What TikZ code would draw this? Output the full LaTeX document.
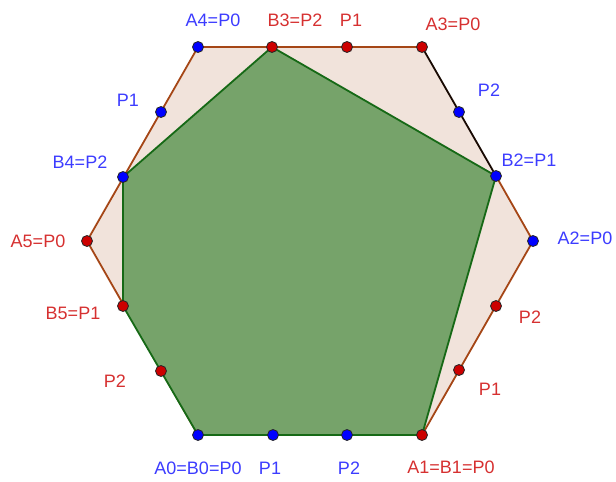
\documentclass[tikz,border=0pt]{standalone}
\usepackage{fontspec}
\setmainfont{Liberation Sans}
\usetikzlibrary{positioning,backgrounds}
\definecolor{hexFill}{RGB}{241,227,219}
\definecolor{hexEdge}{RGB}{165,70,22}
\definecolor{pentFill}{RGB}{118,163,106}
\definecolor{pentEdge}{RGB}{22,105,22}
\definecolor{ptRed}{RGB}{204,0,0}
\definecolor{ptBlue}{RGB}{0,0,255}
\definecolor{txtRed}{RGB}{214,48,48}
\definecolor{txtBlue}{RGB}{60,60,255}

\begin{document}
\begin{tikzpicture}[x=1pt,y=-1pt,
      pt/.style={circle, draw=black!85, line width=0.8pt, inner sep=0pt, minimum size=11pt},
      rpt/.style={pt, fill=ptRed},
      bpt/.style={pt, fill=ptBlue},
      lbl/.style={font=\fontsize{18}{20}\selectfont, inner sep=0pt},
      rl/.style={lbl, text=txtRed},
      bl/.style={lbl, text=txtBlue},
      edge/.style={line width=1.8pt, line join=round}
    ]
      \useasboundingbox (0,0) rectangle (616,482);
      % Hexagon corners A0..A5
      \node[bpt] (a0) at (198,435) {};
      \node[rpt] (a1) at (422,435) {};
      \node[bpt] (a2) at (533,241) {};
      \node[rpt] (a3) at (422,47) {};
      \node[bpt] (a4) at (198,47) {};
      \node[rpt] (a5) at (87,241) {};
      % Points on the sides
      \node[bpt] (bot1) at (273,435) {};
      \node[bpt] (bot2) at (347,435) {};
      \node[rpt] (rgt1) at (459,370) {};
      \node[rpt] (rgt2) at (496,306) {};
      \node[bpt] (b2) at (496,176) {};
      \node[bpt] (upr2) at (459,112) {};
      \node[rpt] (top1) at (347,47) {};
      \node[rpt] (b3) at (272,47) {};
      \node[bpt] (upl1) at (161,112) {};
      \node[bpt] (b4) at (123,177) {};
      \node[rpt] (b5) at (123,306) {};
      \node[rpt] (lwl2) at (161,371) {};
      % Labels
      \node[bl] at (198,468) {A0=B0=P0};
      \node[bl] at (270,468) {P1};
      \node[bl] at (349,468) {P2};
      \node[rl] at (451,467) {A1=B1=P0};
      \node[rl] at (490,389) {P1};
      \node[rl] at (530,317) {P2};
      \node[bl] at (585,238) {A2=P0};
      \node[bl] at (529,160) {B2=P1};
      \node[bl] at (489,90) {P2};
      \node[rl] at (453,24) {A3=P0};
      \node[rl] at (351,20) {P1};
      \node[rl] at (295,20) {B3=P2};
      \node[bl] at (213,20) {A4=P0};
      \node[bl] at (128,100) {P1};
      \node[bl] at (80,162) {B4=P2};
      \node[rl] at (38,241) {A5=P0};
      \node[rl] at (73,313) {B5=P1};
      \node[rl] at (115,381) {P2};
      % Polygons behind the points
      \begin{scope}[on background layer]
        \fill[hexFill] (a0.center) -- (a1.center) -- (a2.center) -- (a3.center)
          -- (a4.center) -- (a5.center) -- cycle;
        \draw[edge, hexEdge] (a2.center) -- (a1.center) -- (a0.center) -- (a5.center)
          -- (a4.center) -- (a3.center);
        \draw[edge, hexEdge] (a2.center) -- (b2.center);
        \draw[edge, black!85!hexEdge] (b2.center) -- (a3.center);
        \draw[edge, pentEdge, fill=pentFill] (a0.center) -- (a1.center) -- (b2.center)
          -- (b3.center) -- (b4.center) -- (b5.center) -- cycle;
      \end{scope}
    \end{tikzpicture}
\end{document}
